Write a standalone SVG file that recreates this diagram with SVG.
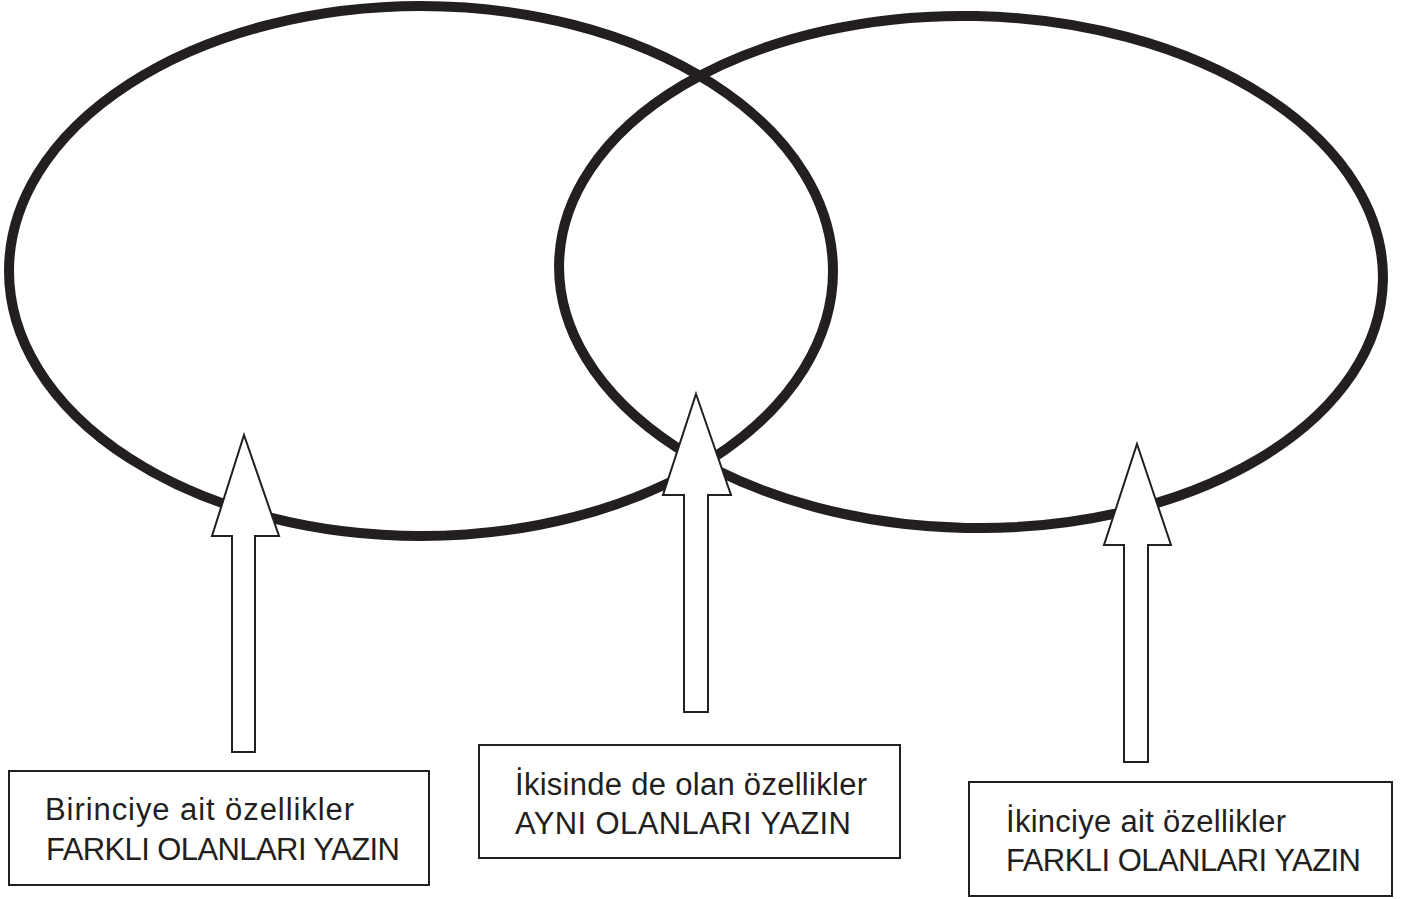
<svg xmlns="http://www.w3.org/2000/svg" width="1410" height="899" viewBox="0 0 1410 899">
<style>
.set{fill:none;stroke:#231f20;stroke-width:10}
.box{fill:#fff;stroke:#231f20;stroke-width:2}
.arrow{fill:#fff;stroke:#231f20;stroke-width:2;stroke-linejoin:miter}
.lbl{font-family:"Liberation Sans",Arial,sans-serif;font-size:31px;fill:#231f20}
</style>
<rect width="1410" height="899" fill="#fff"/>
<g id="set-left"><ellipse class="set" cx="421" cy="271" rx="412" ry="265"/></g>
<g id="set-right"><ellipse class="set" cx="971" cy="272" rx="412" ry="256" transform="rotate(1.2 971 272)"/></g>
<g id="connectors">
<polygon class="arrow" points="244,435 279,536 255,536 255,752 232,752 232,536 212,536"/>
<polygon class="arrow" points="696,394 731,495 708,495 708,712 684,712 684,495 663,495"/>
<polygon class="arrow" points="1137,444 1171,545 1148,545 1148,762 1124,762 1124,545 1104,545"/>
</g>
<g id="box-first">
<rect class="box" x="9" y="771" width="420" height="114"/>
<text class="lbl" x="45" y="820" textLength="309">Birinciye ait özellikler</text>
<text class="lbl" x="46" y="860" textLength="354">FARKLI OLANLARI YAZIN</text>
</g>
<g id="box-both">
<rect class="box" x="479" y="745" width="421" height="113"/>
<text class="lbl" x="515" y="795" textLength="352">İkisinde de olan özellikler</text>
<text class="lbl" x="515" y="834" textLength="336">AYNI OLANLARI YAZIN</text>
</g>
<g id="box-second">
<rect class="box" x="969" y="782" width="423" height="114"/>
<text class="lbl" x="1006" y="832" textLength="280">İkinciye ait özellikler</text>
<text class="lbl" x="1006" y="871" textLength="355">FARKLI OLANLARI YAZIN</text>
</g>
</svg>
